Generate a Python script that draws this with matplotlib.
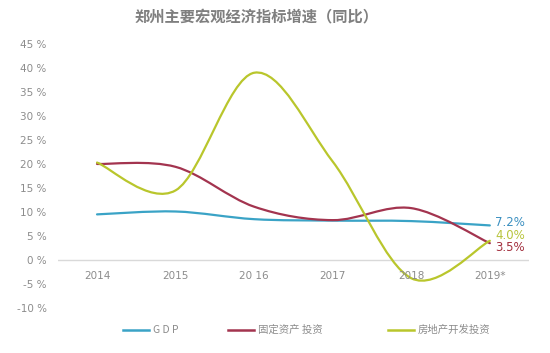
import numpy as np
import matplotlib
matplotlib.use("Agg")
import matplotlib.pyplot as plt
from matplotlib.path import Path
from matplotlib.patches import PathPatch
from matplotlib.lines import Line2D

plt.rcParams['font.family'] = ['Noto Sans CJK SC', 'DejaVu Sans']

# data (% yoy)
years = ['2014', '2015', '20 16', '2017', '2018', '2019*']
gdp = [9.5, 10.1, 8.5, 8.2, 8.1, 7.2]
fixed_inv = [20.0, 19.4, 11.1, 8.3, 10.8, 3.5]
realestate_inv = [20.3, 14.5, 39.0, 20.5, -3.8, 4.0]
end_labels = ['7.2%', '4.0%', '3.5%']

names = ['G D P', '固定资产 投资', '房地产开发投资']
colors = ['#3aa3c6', '#a3344f', '#b9c62c']
label_colors = ['#3a8fc0', '#b7c43a', '#a3303f']


def smooth_path(x, y, t=1/6):
    # Excel style smoothed line: cubic bezier through the points
    pts = np.column_stack([x, y])
    verts = [pts[0]]
    codes = [Path.MOVETO]
    n = len(pts)
    for i in range(n - 1):
        p0 = pts[max(i - 1, 0)]
        p1 = pts[i]
        p2 = pts[i + 1]
        p3 = pts[min(i + 2, n - 1)]
        c1 = p1 + (p2 - p0) * t
        c2 = p2 - (p3 - p1) * t
        verts += [c1, c2, p2]
        codes += [Path.CURVE4] * 3
    return Path(verts, codes)


fig = plt.figure(figsize=(5.5, 3.53), dpi=100)
ax = fig.add_axes([0.105, 0.1275, 0.857, 0.748])

x = np.arange(len(years))
series = [gdp, fixed_inv, realestate_inv]
for s, c in zip(series, colors):
    patch = PathPatch(smooth_path(x, np.array(s, float)), facecolor='none',
                      edgecolor=c, lw=1.6, capstyle='round', zorder=3)
    ax.add_patch(patch)

ax.set_xlim(-0.5, len(years) - 0.5)
ax.set_ylim(-10, 45)
ax.axhline(0, color='#d9d9d9', lw=1, zorder=1)

for sp in ax.spines.values():
    sp.set_visible(False)
ax.set_xticks([])
yt = np.arange(-10, 46, 5)
ax.set_yticks(yt)
ax.set_yticklabels([f'{v} %' for v in yt], color='#8c8c8c', fontsize=7.5,
                   family='DejaVu Sans')
ax.tick_params(axis='y', length=0, pad=8)

for i, yr in enumerate(years):
    ax.annotate(yr, (i, 0), xytext=(0, -11.5), textcoords='offset points',
                ha='center', va='center', color='#8c8c8c', fontsize=7.5,
                family='DejaVu Sans')

label_offsets = [(4, 2), (4, 5.5), (4, -4.5)]
for s, lab, c, off in zip(series, end_labels, label_colors, label_offsets):
    ax.annotate(lab, (x[-1], s[-1]), xytext=off, textcoords='offset points',
                ha='left', va='center', color=c, fontsize=8.5,
                family='DejaVu Sans')

fig.text(0.466, 0.953, '郑州主要宏观经济指标增速（同比）', ha='center', va='center',
         fontsize=11, fontweight='bold', color='#7f7f7f')

# legend drawn by hand to match placement
leg_x = [0.224, 0.415, 0.705]
leg_y = 0.065
for lx, name, c in zip(leg_x, names, colors):
    fig.add_artist(Line2D([lx, lx + 0.047], [leg_y, leg_y], color=c, lw=1.8,
                          transform=fig.transFigure))
    fig.text(lx + 0.055, leg_y, name, ha='left', va='center', fontsize=7.5,
             color='#8c8c8c')

fig.savefig('out.png', dpi=100)
